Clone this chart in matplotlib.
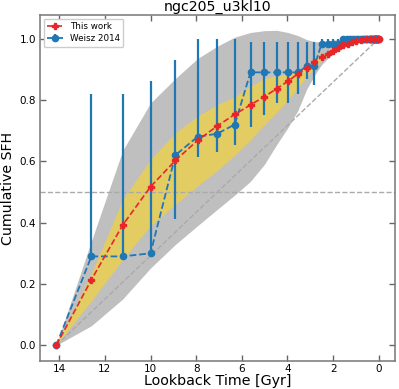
import numpy as np
import matplotlib
matplotlib.use("Agg")
import matplotlib.pyplot as plt

# ---- data ----
band_t = [14.13, 12.59, 11.22, 10.0, 8.91, 7.94, 7.08, 6.31, 5.62, 5.01, 4.47, 3.98,
          3.55, 3.16, 2.82, 2.51, 2.24, 2.0, 1.78, 1.58, 1.41, 1.26, 1.0, 0.5, 0.0]
gray_lo = [0.0, 0.064, 0.151, 0.252, 0.329, 0.39, 0.443, 0.49, 0.535, 0.59, 0.655, 0.71,
           0.765, 0.835, 0.88, 0.915, 0.935, 0.95, 0.962, 0.97, 0.975, 0.98, 0.985, 0.995, 1.0]
gray_hi = [0.0, 0.34, 0.635, 0.79, 0.87, 0.935, 0.975, 1.005, 1.02, 1.026, 1.027, 1.02,
           1.01, 0.997, 0.99, 0.99, 0.992, 0.995, 0.997, 0.998, 0.999, 1.0, 1.0, 1.0, 1.0]
yel_lo = [0.0, 0.145, 0.28, 0.39, 0.46, 0.52, 0.57, 0.62, 0.67, 0.72, 0.76, 0.80,
          0.84, 0.875, 0.905, 0.93, 0.945, 0.957, 0.967, 0.975, 0.981, 0.986, 0.993, 0.998, 1.0]
yel_hi = [0.0, 0.234, 0.475, 0.606, 0.693, 0.747, 0.785, 0.81, 0.845, 0.87, 0.88, 0.885,
          0.893, 0.91, 0.93, 0.945, 0.956, 0.965, 0.973, 0.98, 0.985, 0.99, 0.996, 0.999, 1.0]

this_t = [14.13, 12.59, 11.22, 10.0, 8.91, 7.94, 7.08, 6.31, 5.62, 5.01, 4.47, 3.98,
          3.55, 3.16, 2.82, 2.51, 2.24, 2.0, 1.78, 1.58, 1.37, 1.17, 0.98, 0.79, 0.58,
          0.39, 0.2, 0.0]
this_v = [0.0, 0.214, 0.392, 0.517, 0.603, 0.668, 0.715, 0.753, 0.784, 0.811, 0.837, 0.861,
          0.885, 0.905, 0.925, 0.939, 0.951, 0.961, 0.97, 0.978, 0.983, 0.988, 0.992, 0.995,
          0.998, 0.999, 1.0, 1.0]

w_t = [14.13, 12.59, 11.22, 10.0, 8.91, 7.94, 7.08, 6.31, 5.62, 5.01, 4.47, 3.98,
       3.55, 3.16, 2.82, 2.51, 2.24, 2.0, 1.78, 1.58, 1.41, 1.26, 1.12, 1.0, 0.89,
       0.79, 0.71, 0.63, 0.56, 0.5, 0.45, 0.4, 0.35, 0.32, 0.28, 0.25, 0.22, 0.2,
       0.18, 0.16, 0.14, 0.13, 0.11, 0.1, 0.08, 0.06, 0.04, 0.02, 0.004]
w_v = [0.0, 0.29, 0.29, 0.30, 0.62, 0.68, 0.69, 0.72, 0.89, 0.89, 0.89, 0.89,
       0.89, 0.91, 0.91, 0.982, 0.982, 0.982, 0.982] + [1.0] * 30
w_lo = [0.0, 0.29, 0.29, 0.30, 0.412, 0.613, 0.631, 0.652, 0.712, 0.752, 0.791, 0.791,
        0.821, 0.867, 0.85, 0.982, 0.982, 0.982, 0.982] + [1.0] * 30
w_hi = [0.0, 0.82, 0.82, 0.861, 0.93, 1.0, 1.0, 1.0, 0.99, 0.99, 0.99, 0.99,
        0.99, 0.99, 0.99, 1.0, 1.0, 1.0, 1.0] + [1.0] * 30

title = "ngc205_u3kl10"
xlabel = "Lookback Time [Gyr]"
ylabel = "Cumulative SFH"

# ---- plot ----
fig = plt.figure(figsize=(3.99, 3.89), dpi=100)
ax = fig.add_axes([0.1003, 0.072, 0.8897, 0.8894])

ax.fill_between(band_t, gray_lo, gray_hi, color="#bfbfbf", lw=0, zorder=1)
ax.fill_between(band_t, yel_lo, yel_hi, color="#e3cd62", lw=0, zorder=2)

ax.axhline(0.5, color="#aaaaaa", ls="--", lw=1.0, zorder=2.5)
ax.plot([max(band_t), 0], [0, 1], color="#aaaaaa", ls="--", lw=1.0, zorder=2.5)

w_v_a = np.array(w_v)
yerr = [w_v_a - np.array(w_lo), np.array(w_hi) - w_v_a]
ax.errorbar(w_t, w_v, yerr=yerr, fmt="o--", color="#1f77b4", ms=4.5, lw=1.3,
            elinewidth=1.6, capsize=0, label="Weisz 2014", zorder=3)
ax.plot(this_t, this_v, "P--", color="#e8262a", ms=4, lw=1.2, label="This work", zorder=4)

ax.set_xlim(14.84, -0.71)
ax.set_ylim(-0.051, 1.077)
ax.set_xticks([14, 12, 10, 8, 6, 4, 2, 0])
ax.set_yticks([0.0, 0.2, 0.4, 0.6, 0.8, 1.0])
ax.tick_params(direction="in", top=True, right=True, length=4, width=1,
               color="#666666", labelsize=7.5)
ax.tick_params(axis="x", pad=2.5)
ax.tick_params(axis="y", pad=3)
for s in ax.spines.values():
    s.set_color("#777777")
    s.set_linewidth(1.1)

ax.set_title(title, fontsize=10.2, pad=3)
ax.set_xlabel(xlabel, fontsize=10.3, labelpad=0)
ax.set_ylabel(ylabel, fontsize=10.2, labelpad=3)

h, l = ax.get_legend_handles_labels()
order = [l.index("This work"), l.index("Weisz 2014")]
ax.legend([h[i] for i in order], [l[i] for i in order], loc="upper left",
          fontsize=6.3, framealpha=1, handlelength=1.8, borderpad=0.4,
          labelspacing=0.35, borderaxespad=0.4)

fig.savefig("out.png", dpi=100)
